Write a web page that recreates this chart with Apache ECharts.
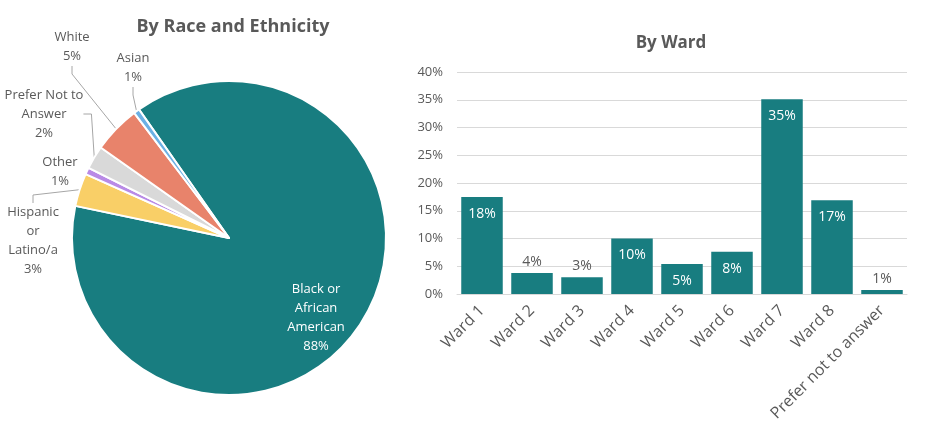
<!DOCTYPE html>
<html>
<head>
<meta charset="utf-8">
<script src="https://cdn.jsdelivr.net/npm/echarts@6/dist/echarts.min.js"></script>
<style>
html,body{margin:0;padding:0;background:#fff;}
#c{width:949px;height:438px;}
</style>
</head>
<body>
<div id="c"></div>
<script>
// Pie data (clockwise from the teal slice)
const raceNames = ["Black or\nAfrican\nAmerican", "Hispanic\nor\nLatino/a", "Other", "Prefer Not to\nAnswer", "White", "Asian"];
const raceValues = [88.0, 3.4, 0.7, 2.4, 4.9, 0.6];
const raceColors = ["#187D80", "#F9CF67", "#B98AE6", "#D9D9D9", "#E8836B", "#6CB0E4"];

// Bar data
const wardCategories = ["Ward 1", "Ward 2", "Ward 3", "Ward 4", "Ward 5", "Ward 6", "Ward 7", "Ward 8", "Prefer not to answer"];
const wardValues = [17.5, 3.8, 3.0, 10.0, 5.4, 7.6, 35.1, 16.9, 0.7];
const yTicks = [0, 5, 10, 15, 20, 25, 30, 35, 40];

const FONT = "'Open Sans', sans-serif";
const GRAY = "#595959";

// label placement for the pie (layout only)
const pieLabelPlace = [
  { dx: 19, dy: 35 },
  { x: 33, y: 241 },
  { x: 60, y: 172 },
  { x: 44, y: 114 },
  { x: 72, y: 47 },
  { x: 133, y: 68 }
];

const chart = echarts.init(document.getElementById('c'));

const pieData = raceNames.map((n, i) => {
  const d = { name: n, value: raceValues[i], itemStyle: { color: raceColors[i] } };
  if (i === 0) {
    d.label = { position: 'inside', color: '#fff' };
    d.labelLine = { show: false };
  }
  if (i === 2) d.labelLine = { show: false };
  return d;
});

const barData = wardValues.map(v => {
  const inside = v >= 5;
  return {
    value: v,
    label: inside
      ? { position: 'insideTop', color: '#fff', distance: 10 }
      : { position: 'top', color: GRAY, distance: 4 }
  };
});

chart.setOption({
  animation: false,
  textStyle: { fontFamily: FONT },
  title: [
    { text: 'By Race and Ethnicity', left: 228, top: 13, textAlign: 'center',
      textStyle: { fontFamily: FONT, fontSize: 18, fontWeight: 'bold', color: GRAY } },
    { text: 'By Ward', left: 666, top: 30, textAlign: 'center',
      textStyle: { fontFamily: FONT, fontSize: 17, fontWeight: 'bold', color: GRAY } }
  ],
  grid: { left: 457, right: 42, top: 72, bottom: 144, containLabel: false },
  xAxis: {
    type: 'category', data: wardCategories,
    axisLine: { lineStyle: { color: '#D9D9D9', width: 1 } },
    axisTick: { show: false },
    axisLabel: { rotate: 45, color: GRAY, fontSize: 16, fontFamily: FONT, interval: 0, margin: 14 }
  },
  yAxis: {
    type: 'value', min: yTicks[0], max: yTicks[yTicks.length - 1], interval: yTicks[1] - yTicks[0],
    axisLine: { show: false }, axisTick: { show: false },
    splitLine: { lineStyle: { color: '#D9D9D9', width: 1 } },
    axisLabel: { formatter: '{value}%', color: GRAY, fontSize: 13, fontFamily: FONT, margin: 14 }
  },
  series: [
    {
      type: 'pie',
      center: [229, 238],
      radius: 157,
      startAngle: 125,
      clockwise: true,
      avoidLabelOverlap: false,
      itemStyle: { borderColor: '#fff', borderWidth: 2 },
      label: {
        formatter: p => p.name + '\n' + Math.round(p.value) + '%',
        color: GRAY, fontSize: 13, lineHeight: 19, fontFamily: FONT, align: 'center', overflow: 'none'
      },
      labelLine: { length: 12, length2: 8, lineStyle: { color: '#A6A6A6', width: 1 } },
      labelLayout: p => {
        const pl = pieLabelPlace[p.dataIndex];
        return Object.assign({ align: 'center', verticalAlign: 'middle' }, pl);
      },
      data: pieData
    },
    {
      type: 'bar',
      barCategoryGap: '17%',
      itemStyle: { color: '#187D80' },
      label: { show: true, formatter: p => Math.round(p.value) + '%', fontSize: 14, fontFamily: FONT },
      data: barData
    }
  ]
});
</script>
</body>
</html>
